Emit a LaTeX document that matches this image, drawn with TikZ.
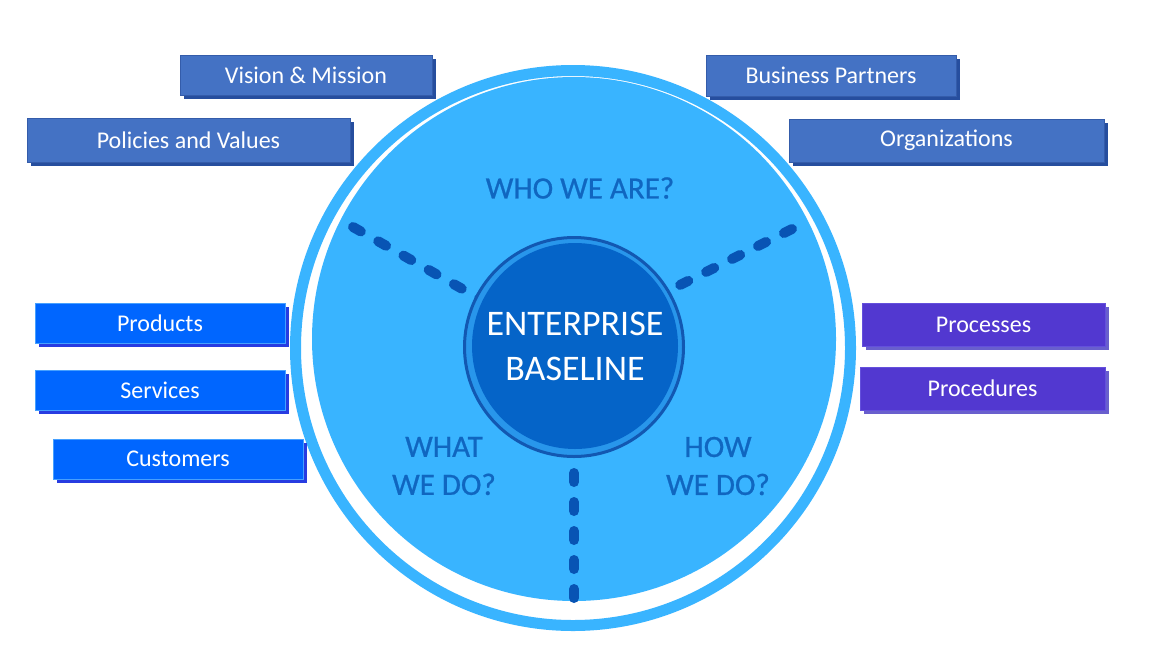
\documentclass[tikz,border=0pt]{standalone}
\usepackage{fontspec}
\setmainfont{Carlito}
\newfontfamily\qfont[FakeBold=0.7]{Carlito}
\usetikzlibrary{shadows}
\definecolor{lb}{RGB}{57,180,255}
\definecolor{topfill}{RGB}{68,114,196}
\definecolor{topshadow}{RGB}{38,78,158}
\definecolor{topedge}{RGB}{52,92,170}
\definecolor{leftfill}{RGB}{0,102,255}
\definecolor{leftshadow}{RGB}{40,60,225}
\definecolor{leftedge}{RGB}{70,160,255}
\definecolor{rightfill}{RGB}{82,56,208}
\definecolor{rightshadow}{RGB}{105,95,205}
\definecolor{rightedge}{RGB}{100,80,220}
\definecolor{cdark}{RGB}{5,100,200}
\definecolor{cband}{RGB}{40,150,235}
\definecolor{cring}{RGB}{18,88,178}
\definecolor{dashcol}{RGB}{8,84,180}
\definecolor{qtext}{RGB}{16,102,192}
\tikzset{
  x=1pt, y=-1pt,
  box/.style={rectangle, inner sep=0pt, outer sep=0pt, text=white,
    font=\fontsize{24}{28}\selectfont, line width=1pt},
  topbox/.style={box, fill=topfill, draw=topedge,
    drop shadow={shadow xshift=4pt, shadow yshift=-4pt, fill=topshadow, opacity=1}},
  leftbox/.style={box, fill=leftfill, draw=leftedge,
    drop shadow={shadow xshift=4pt, shadow yshift=-4pt, fill=leftshadow, opacity=1}},
  rightbox/.style={box, fill=rightfill, draw=rightedge,
    drop shadow={shadow xshift=4pt, shadow yshift=-4pt, fill=rightshadow, opacity=1}},
  dashline/.style={draw=dashcol, line width=10pt, line cap=round,
    dash pattern=on 9pt off 20pt},
  question/.style={text=qtext, align=center, inner sep=0pt,
    font=\qfont\fontsize{31}{38}\selectfont},
}
\begin{document}
\begin{tikzpicture}
\useasboundingbox (0,0) rectangle (1158,665);
\fill[white] (0,0) rectangle (1158,665);
% big circle
\node[circle, draw=lb, line width=11pt, minimum size=555pt, inner sep=0pt] (ring) at (573,348) {};
\node[circle, fill=lb, minimum size=524pt, inner sep=0pt] (disc) at (574,339) {};
% dashed spokes
\coordinate (ulend) at (353,227);
\coordinate (ulin) at (480,299);
\coordinate (urend) at (792,229);
\coordinate (urin) at (670,290);
\coordinate (bend) at (574,598);
\coordinate (bin) at (574,452);
\coordinate (ctr) at (574,347);
\draw[dashline] (ulend) -- (ulin);
\draw[dashline] (urend) -- (urin);
\draw[dashline] (bend) -- (bin);
% centre
\node[circle, fill=cband, draw=cring, line width=3pt, minimum size=219pt, inner sep=0pt] (cb) at (ctr) {};
\node[circle, fill=cdark, minimum size=206pt, inner sep=0pt, text=white, align=center,
  font=\fontsize{36}{45}\selectfont] (core) at (575,346) {ENTERPRISE\\BASELINE};
% questions
\node[question] (who) at (580,188) {WHO WE ARE?};
\node[question] (what) at (444,466) {WHAT\\WE DO?};
\node[question] (how) at (718,466) {HOW\\WE DO?};
% boxes
\node[topbox, minimum width=252pt, minimum height=40pt] (vision) at (306,75) {Vision \& Mission};
\node[topbox, minimum width=323pt, minimum height=44pt] (policies) at (188.5,140) {Policies and Values};
\node[topbox, minimum width=250pt, minimum height=41pt] (partners) at (831,75.5) {Business Partners};
\node[topbox, minimum width=315pt, minimum height=43pt] (orgs) at (946.5,140.5) {Organizations};
\node[leftbox, minimum width=250pt, minimum height=40pt] (products) at (160,323) {Products};
\node[leftbox, minimum width=250pt, minimum height=40pt] (services) at (160,390) {Services};
\node[leftbox, minimum width=250pt, minimum height=40pt] (customers) at (178,459) {Customers};
\node[rightbox, minimum width=243pt, minimum height=43pt] (processes) at (983.5,324.5) {Processes};
\node[rightbox, minimum width=245pt, minimum height=43pt] (procedures) at (982.5,388.5) {Procedures};
\end{tikzpicture}
\end{document}
